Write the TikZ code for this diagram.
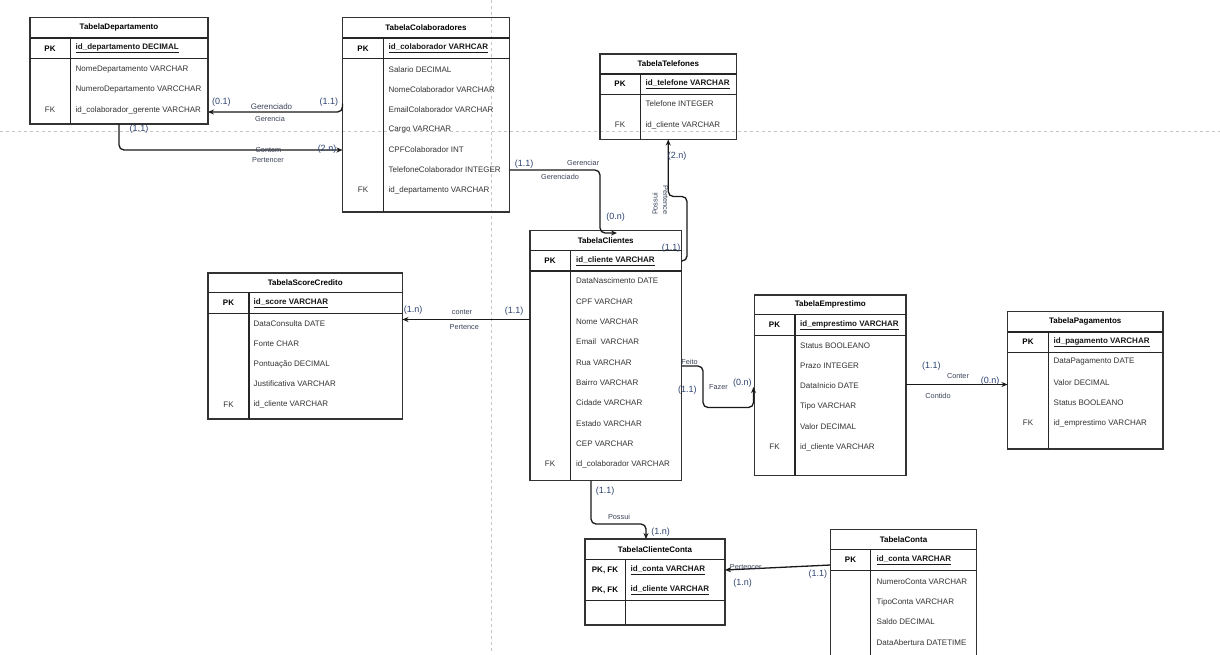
\documentclass[tikz,border=0pt]{standalone}
\usepackage{fontspec}
\setmainfont{Liberation Sans}
\usetikzlibrary{arrows.meta,calc}
\definecolor{card}{HTML}{2E4470}
\definecolor{role}{HTML}{3A4258}
\definecolor{fldc}{HTML}{333333}
\definecolor{grid}{HTML}{C4C4C4}
\tikzset{
  tbl/.style={draw=black!80, line width=1.2pt, inner sep=0pt, outer sep=0pt},
  sepl/.style={draw=black!85, line width=1.1pt},
  ttl/.style={font=\fontsize{8}{9}\selectfont\bfseries, text=black, inner sep=0pt},
  fld/.style={font=\fontsize{8}{9}\selectfont, text=fldc, anchor=west, inner sep=0pt},
  pkf/.style={font=\fontsize{8}{9}\selectfont\bfseries, text=black!90, anchor=west, inner sep=0pt},
  keyc/.style={font=\fontsize{8}{9}\selectfont, text=fldc, inner sep=0pt},
  pkk/.style={font=\fontsize{8}{9}\selectfont\bfseries, text=black, inner sep=0pt},
  conn/.style={draw=black!90, line width=1.3pt, rounded corners=5pt, -{Stealth[length=6pt,width=5pt]}},
  cardl/.style={font=\fontsize{9}{10}\selectfont, text=card, inner sep=0pt},
  rolel/.style={font=\fontsize{7.3}{8}\selectfont, text=role, inner sep=0pt},
  gridl/.style={draw=grid, line width=0.8pt, dash pattern=on 3pt off 3pt}
}
% name, L, T, R, B, titlebottom, pkbottom, divider, title
\newcommand\ertable[9]{%
  \node[tbl, anchor=north west, minimum width={(#4-#2)*1pt}, minimum height={(#5-#3)*1pt}] (#1) at (#2,#3) {};
  \draw[sepl] (#2,#6) -- (#4,#6);
  \draw[sepl] (#2,#7) -- (#4,#7);
  \draw[sepl] (#8,#6) -- (#8,#5);
  \node[ttl] (#1-title) at ({(#2+#4)/2},{(#3+#6)/2}) {#9};
}
\begin{document}
\begin{tikzpicture}[x=1pt,y=-1pt]
\useasboundingbox (0,0) rectangle (1220,654);
\clip (0,0) rectangle (1220,654);
\fill[white] (0,0) rectangle (1220,654);

% dashed guides
\coordinate (gh1) at (0,131.5); \coordinate (gh2) at (1220,131.5);
\coordinate (gv1) at (491,0); \coordinate (gv2) at (491,654);
\draw[gridl] (gh1) -- (gh2);
\draw[gridl] (gv1) -- (gv2);

% TabelaDepartamento
\ertable{dep}{30}{17.5}{208}{124}{38}{58.5}{70.5}{TabelaDepartamento}
\node[pkk] (dep-k1) at (50,48.5) {PK};
\node[pkf] (dep-f1) at (75.5,48.5) {\underline{id\_departamento DECIMAL}};
\node[fld] (dep-f2) at (75.5,69.5) {NomeDepartamento VARCHAR};
\node[fld] (dep-f3) at (75.5,89.5) {NumeroDepartamento VARCCHAR};
\node[keyc] (dep-k4) at (50,110) {FK};
\node[fld] (dep-f4) at (75.5,110) {id\_colaborador\_gerente VARCHAR};

% TabelaColaboradores
\ertable{col}{342.5}{17.5}{509.5}{212}{38}{58.5}{383.5}{TabelaColaboradores}
\node[pkk] (col-k1) at (363,48.5) {PK};
\node[pkf] (col-f1) at (388.5,48.5) {\underline{id\_colaborador VARHCAR}};
\node[fld] (col-f2) at (388.5,69.5) {Salario DECIMAL};
\node[fld] (col-f3) at (388.5,89.5) {NomeColaborador VARCHAR};
\node[fld] (col-f4) at (388.5,109.5) {EmailColaborador VARCHAR};
\node[fld] (col-f5) at (388.5,129.5) {Cargo VARCHAR};
\node[fld] (col-f6) at (388.5,150) {CPFColaborador INT};
\node[fld] (col-f7) at (388.5,170) {TelefoneColaborador INTEGER};
\node[keyc] (col-k8) at (363,190) {FK};
\node[fld] (col-f8) at (388.5,190) {id\_departamento VARCHAR};

% TabelaTelefones
\ertable{tel}{600}{54}{736.5}{139.5}{74}{94.5}{640.5}{TabelaTelefones}
\node[pkk] (tel-k1) at (620,84) {PK};
\node[pkf] (tel-f1) at (645.5,84) {\underline{id\_telefone VARCHAR}};
\node[fld] (tel-f2) at (645.5,104) {Telefone INTEGER};
\node[keyc] (tel-k3) at (620,125) {FK};
\node[fld] (tel-f3) at (645.5,125) {id\_cliente VARCHAR};

% TabelaClientes
\ertable{cli}{530}{230.5}{681.5}{480.5}{250.5}{271}{570.5}{TabelaClientes}
\node[pkk] (cli-k1) at (550,261) {PK};
\node[pkf] (cli-f1) at (576,261) {\underline{id\_cliente VARCHAR}};
\node[fld] (cli-f2) at (576,281) {DataNascimento DATE};
\node[fld] (cli-f3) at (576,301.5) {CPF VARCHAR};
\node[fld] (cli-f4) at (576,322) {Nome VARCHAR};
\node[fld] (cli-f5) at (576,342) {Email\ \ VARCHAR};
\node[fld] (cli-f6) at (576,362.5) {Rua VARCHAR};
\node[fld] (cli-f7) at (576,383) {Bairro VARCHAR};
\node[fld] (cli-f8) at (576,403) {Cidade VARCHAR};
\node[fld] (cli-f9) at (576,423.5) {Estado VARCHAR};
\node[fld] (cli-f10) at (576,443.5) {CEP VARCHAR};
\node[keyc] (cli-k11) at (550,464) {FK};
\node[fld] (cli-f11) at (576,464) {id\_colaborador VARCHAR};

% TabelaScoreCredito
\ertable{sco}{208}{273}{402.5}{419}{292.5}{313.5}{249}{TabelaScoreCredito}
\node[pkk] (sco-k1) at (228.5,303) {PK};
\node[pkf] (sco-f1) at (253.5,303) {\underline{id\_score VARCHAR}};
\node[fld] (sco-f2) at (253.5,323.5) {DataConsulta DATE};
\node[fld] (sco-f3) at (253.5,343.5) {Fonte CHAR};
\node[fld] (sco-f4) at (253.5,364) {Pontuação DECIMAL};
\node[fld] (sco-f5) at (253.5,384) {Justificativa VARCHAR};
\node[keyc] (sco-k6) at (228.5,404.5) {FK};
\node[fld] (sco-f6) at (253.5,404.5) {id\_cliente VARCHAR};

% TabelaEmprestimo
\ertable{emp}{754.5}{295}{906}{475.5}{314.5}{335.5}{795}{TabelaEmprestimo}
\node[pkk] (emp-k1) at (774.5,325) {PK};
\node[pkf] (emp-f1) at (800,325) {\underline{id\_emprestimo VARCHAR}};
\node[fld] (emp-f2) at (800,345.5) {Status BOOLEANO};
\node[fld] (emp-f3) at (800,366) {Prazo INTEGER};
\node[fld] (emp-f4) at (800,386) {DataInicio DATE};
\node[fld] (emp-f5) at (800,406.5) {Tipo VARCHAR};
\node[fld] (emp-f6) at (800,426.5) {Valor DECIMAL};
\node[keyc] (emp-k7) at (774.5,447) {FK};
\node[fld] (emp-f7) at (800,447) {id\_cliente VARCHAR};

% TabelaPagamentos
\ertable{pag}{1007.5}{311.5}{1163}{449}{332}{352.5}{1048.5}{TabelaPagamentos}
\node[pkk] (pag-k1) at (1028,342) {PK};
\node[pkf] (pag-f1) at (1053.5,342) {\underline{id\_pagamento VARCHAR}};
\node[fld] (pag-f2) at (1053.5,362) {DataPagamento DATE};
\node[fld] (pag-f3) at (1053.5,383) {Valor DECIMAL};
\node[fld] (pag-f4) at (1053.5,403) {Status BOOLEANO};
\node[keyc] (pag-k5) at (1028,423) {FK};
\node[fld] (pag-f5) at (1053.5,423) {id\_emprestimo VARCHAR};

% TabelaClienteConta
\ertable{cc}{585}{539}{725}{625}{559.5}{600.5}{625.5}{TabelaClienteConta}
\node[pkk] (cc-k1) at (605,570) {PK, FK};
\node[pkf] (cc-f1) at (630.5,570) {\underline{id\_conta VARCHAR}};
\node[pkk] (cc-k2) at (605,590) {PK, FK};
\node[pkf] (cc-f2) at (630.5,590) {\underline{id\_cliente VARCHAR}};

% TabelaConta
\ertable{con}{830.5}{529.5}{976.5}{672}{549.5}{570.5}{870.5}{TabelaConta}
\node[pkk] (con-k1) at (850.5,560) {PK};
\node[pkf] (con-f1) at (876.5,560) {\underline{id\_conta VARCHAR}};
\node[fld] (con-f2) at (876.5,581.5) {NumeroConta VARCHAR};
\node[fld] (con-f3) at (876.5,602) {TipoConta VARCHAR};
\node[fld] (con-f4) at (876.5,622) {Saldo DECIMAL};
\node[fld] (con-f5) at (876.5,642.5) {DataAbertura DATETIME};

% ---------- connectors ----------
% Colaboradores -> Departamento
\draw[conn] ($(col.north west)+(0,86)$) -- ($(col.north west)+(0,94.5)$) -- ($(dep.north east)+(0,94.5)$);
% Departamento -> Colaboradores
\draw[conn] ($(dep.south west)+(89,0)$) |- ($(col.north west)+(0,132.5)$);
% Colaboradores -> Clientes
\draw[conn] ($(col.north east)+(0,152.5)$) -| ($(cli.north west)+(70,2.5)$) -- ($(cli.north west)+(87,2.5)$);
% Clientes -> Telefones
\draw[conn] ($(cli.north east)+(0,30.5)$) -- ($(cli.north east)+(5.5,30.5)$) |- ($(tel.south)+(0,57)$) -- (tel.south);
% Clientes -> ScoreCredito
\draw[conn] ($(cli.north west)+(0,89)$) -- ($(sco.north east)+(0,46.5)$);
% Clientes -> Emprestimo
\draw[conn] ($(cli.north east)+(0,135.5)$) -- ($(cli.north east)+(21.5,135.5)$) |- ($(emp.north west)+(-1,112.5)$) -- ($(emp.north west)+(-1,92)$);
% Emprestimo -> Pagamentos
\draw[conn] ($(emp.north east)+(0,89.5)$) -- ($(pag.north west)+(0,73)$);
% Clientes -> ClienteConta
\draw[conn] ($(cli.south west)+(61,0)$) |- ($(cc.north west)+(61,-15)$) -- ($(cc.north west)+(61,0)$);
% Conta -> ClienteConta
\draw[conn] ($(con.north west)+(0,35.5)$) -- ($(cc.north east)+(0,31)$);

% ---------- labels ----------
\node[cardl] (l1) at (221.3,101.7) {(0.1)};
\node[rolel,font=\fontsize{8}{9}\selectfont] (l2) at (271.5,106.5) {Gerenciado};
\node[rolel] (l3) at (270,118.7) {Gerencia};
\node[cardl] (l4) at (328.8,101.7) {(1.1)};
\node[cardl] (l5) at (139,129) {(1.1)};
\node[rolel] (l6) at (268.5,150.3) {Contem};
\node[rolel] (l7) at (268,160.3) {Pertencer};
\node[cardl] (l8) at (327,149.5) {(2.n)};
\node[cardl] (l9) at (524.2,164.3) {(1.1)};
\node[rolel] (l10) at (583.2,163.3) {Gerenciar};
\node[rolel] (l11) at (560,176.7) {Gerenciado};
\node[cardl] (l12) at (615.5,216.7) {(0.n)};
\node[cardl] (l13) at (677,156) {(2.n)};
\node[rolel,rotate=90] (l14) at (655,204) {Possui};
\node[rolel,rotate=-90] (l15) at (665.5,200) {Pertence};
\node[cardl] (l16) at (671,248.3) {(1.1)};
\node[cardl] (l17) at (413,310.5) {(1.n)};
\node[rolel] (l18) at (462,312.3) {conter};
\node[rolel] (l19) at (464.3,327.3) {Pertence};
\node[cardl] (l20) at (514.2,311.5) {(1.1)};
\node[rolel] (l21) at (689.5,361.7) {Feito};
\node[cardl] (l22) at (687.3,390) {(1.1)};
\node[rolel] (l23) at (718.5,386.7) {Fazer};
\node[cardl] (l24) at (742.3,382.7) {(0.n)};
\node[cardl] (l25) at (931.3,366) {(1.1)};
\node[rolel] (l26) at (958,376) {Conter};
\node[cardl] (l27) at (990,381) {(0.n)};
\node[rolel] (l28) at (938,395.7) {Contido};
\node[cardl] (l29) at (605,490.7) {(1.1)};
\node[rolel] (l30) at (619,516.7) {Possui};
\node[cardl] (l31) at (660.5,531.7) {(1.n)};
\node[rolel] (l32) at (745.8,566.7) {Pertencer};
\node[cardl] (l33) at (817.8,574) {(1.1)};
\node[cardl] (l34) at (742.7,583.3) {(1.n)};
\end{tikzpicture}
\end{document}
